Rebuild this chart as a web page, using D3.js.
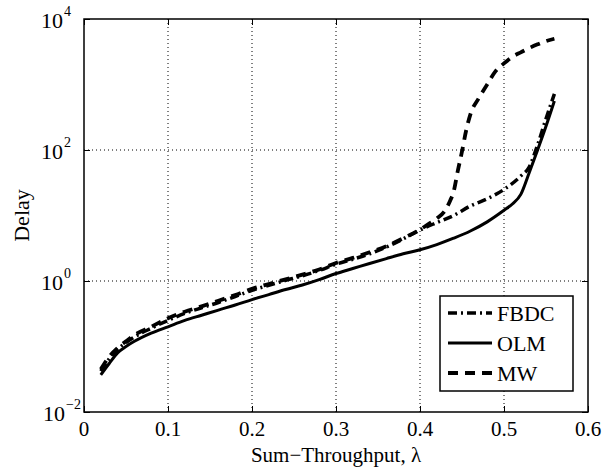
<!DOCTYPE html>
<html>
<head>
<meta charset="utf-8">
<script src="https://cdn.jsdelivr.net/npm/d3@7"></script>
<style>
  html, body { margin: 0; padding: 0; background: #fff; }
  svg { display: block; }
  text { font-family: "Liberation Serif", "Times New Roman", serif; fill: #000; }
</style>
</head>
<body>
<svg id="chart" width="603" height="472"></svg>
<script>
// ---------------- data ----------------
const xTicks = [0, 0.1, 0.2, 0.3, 0.4, 0.5, 0.6];
const xTickLabels = ["0", "0.1", "0.2", "0.3", "0.4", "0.5", "0.6"];
const yTicks = [1e-2, 1e0, 1e2, 1e4];
const yTickExponents = ["\u22122", "0", "2", "4"];
const seriesNames = ["FBDC", "OLM", "MW"];

const olmX = [0.02, 0.03, 0.04, 0.05, 0.06, 0.08, 0.10, 0.12, 0.14, 0.16, 0.18, 0.20, 0.22, 0.24, 0.26, 0.28, 0.30, 0.32, 0.34, 0.36, 0.38, 0.40, 0.42, 0.44, 0.46, 0.48, 0.50, 0.51, 0.52, 0.53, 0.54, 0.55, 0.56];
const olmY = [0.037, 0.055, 0.08, 0.1, 0.12, 0.16, 0.2, 0.25, 0.3, 0.36, 0.43, 0.52, 0.62, 0.74, 0.87, 1.05, 1.3, 1.55, 1.85, 2.2, 2.6, 3.0, 3.6, 4.5, 5.8, 8, 12, 15, 21, 45, 100, 230, 560];

const fbdcX = [0.02, 0.03, 0.04, 0.05, 0.06, 0.08, 0.10, 0.12, 0.14, 0.16, 0.18, 0.20, 0.22, 0.24, 0.26, 0.28, 0.30, 0.32, 0.34, 0.36, 0.38, 0.40, 0.42, 0.44, 0.46, 0.48, 0.50, 0.52, 0.53, 0.54, 0.55, 0.56];
const fbdcY = [0.042, 0.065, 0.09, 0.115, 0.14, 0.19, 0.25, 0.32, 0.39, 0.47, 0.58, 0.72, 0.86, 1.02, 1.2, 1.45, 1.8, 2.15, 2.6, 3.3, 4.4, 6.0, 7.8, 10, 14, 18, 25, 40, 55, 120, 300, 720];

const mwX = [0.02, 0.03, 0.04, 0.05, 0.06, 0.08, 0.10, 0.12, 0.14, 0.16, 0.18, 0.20, 0.22, 0.24, 0.26, 0.28, 0.30, 0.32, 0.34, 0.36, 0.38, 0.40, 0.41, 0.42, 0.43, 0.436, 0.44, 0.445, 0.45, 0.455, 0.46, 0.47, 0.48, 0.49, 0.50, 0.51, 0.52, 0.53, 0.54, 0.55, 0.56];
const mwY = [0.045, 0.07, 0.095, 0.12, 0.15, 0.2, 0.27, 0.34, 0.41, 0.5, 0.61, 0.76, 0.9, 1.06, 1.25, 1.5, 1.88, 2.25, 2.75, 3.4, 4.5, 6.1, 7.4, 9, 12, 17, 23, 48, 95, 200, 350, 620, 1000, 1600, 2100, 2650, 3100, 3600, 4100, 4600, 5000];

// ---------------- layout ----------------
const svg = d3.select("#chart");
const L = 84, R = 588, T = 19, B = 412;

const x = d3.scaleLinear().domain([0, 0.6]).range([L, R]);
const y = d3.scaleLog().domain([1e-2, 1e4]).range([B, T]);

svg.append("rect").attr("width", 603).attr("height", 472).attr("fill", "#fff");

// grid
const gridX = xTicks.slice(1, -1), gridY = yTicks.slice(1, -1);
svg.append("g").selectAll("line").data(gridX).join("line")
  .attr("x1", d => x(d)).attr("x2", d => x(d))
  .attr("y1", T).attr("y2", B)
  .attr("stroke", "#000").attr("stroke-width", 1).attr("stroke-dasharray", "1,3");
svg.append("g").selectAll("line").data(gridY).join("line")
  .attr("y1", d => y(d)).attr("y2", d => y(d))
  .attr("x1", L).attr("x2", R)
  .attr("stroke", "#000").attr("stroke-width", 1).attr("stroke-dasharray", "1,3");

// axes (ticks inward) using d3 axes
const tl = 6;
svg.append("g").attr("transform", `translate(0,${B})`)
  .call(d3.axisBottom(x).tickValues(xTicks).tickSize(-tl).tickFormat(""))
  .call(g => g.select(".domain").remove());
svg.append("g").attr("transform", `translate(0,${T})`)
  .call(d3.axisTop(x).tickValues(xTicks).tickSize(-tl).tickFormat(""))
  .call(g => g.select(".domain").remove());
svg.append("g").attr("transform", `translate(${L},0)`)
  .call(d3.axisLeft(y).tickValues(yTicks).tickSize(-tl).tickFormat(""))
  .call(g => g.select(".domain").remove());
svg.append("g").attr("transform", `translate(${R},0)`)
  .call(d3.axisRight(y).tickValues(yTicks).tickSize(-tl).tickFormat(""))
  .call(g => g.select(".domain").remove());
svg.selectAll(".tick line").attr("stroke", "#000").attr("stroke-width", 1);

// frame
svg.append("rect").attr("x", L).attr("y", T).attr("width", R - L).attr("height", B - T)
  .attr("fill", "none").attr("stroke", "#000").attr("stroke-width", 1.5);

// x tick labels
svg.append("g").selectAll("text").data(xTicks).join("text")
  .attr("x", d => x(d)).attr("y", B + 24)
  .attr("text-anchor", "middle").attr("font-size", 21)
  .text((d, i) => xTickLabels[i]);

// y tick labels 10^k
const yl = svg.append("g").selectAll("g").data(yTicks).join("g")
  .attr("transform", d => `translate(0,${y(d)})`);
yl.append("text").attr("x", d => d < 1 ? 65 : 63).attr("y", 9)
  .attr("text-anchor", "end").attr("font-size", 22).text("10");
yl.append("text").attr("x", d => d < 1 ? 66 : 64).attr("y", -3)
  .attr("text-anchor", "start").attr("font-size", 14)
  .text((d, i) => yTickExponents[i]);

// axis labels
svg.append("text").attr("x", (L + R) / 2).attr("y", 462)
  .attr("text-anchor", "middle").attr("font-size", 21)
  .text("Sum\u2212Throughput, \u03bb");
svg.append("text").attr("transform", `translate(29,${(T + B) / 2}) rotate(-90)`)
  .attr("text-anchor", "middle").attr("font-size", 22).text("Delay");

// lines
const styles = {
  FBDC: { dash: "9,4,2,4", width: 3.5 },
  OLM: { dash: null, width: 3 },
  MW: { dash: "10,7", width: 3.8 }
};
const seriesData = {
  FBDC: fbdcX.map((v, i) => [v, fbdcY[i]]),
  OLM: olmX.map((v, i) => [v, olmY[i]]),
  MW: mwX.map((v, i) => [v, mwY[i]])
};
const line = d3.line().x(d => x(d[0])).y(d => y(d[1])).curve(d3.curveMonotoneX);
svg.append("clipPath").attr("id", "clip").append("rect")
  .attr("x", L).attr("y", T).attr("width", R - L).attr("height", B - T);
["OLM", "FBDC", "MW"].forEach(name => {
  svg.append("path").datum(seriesData[name])
    .attr("clip-path", "url(#clip)")
    .attr("d", line).attr("fill", "none").attr("stroke", "#000")
    .attr("stroke-width", styles[name].width)
    .attr("stroke-dasharray", styles[name].dash);
});

// legend
const lg = svg.append("g");
lg.append("rect").attr("x", 440).attr("y", 296).attr("width", 133).attr("height", 95)
  .attr("fill", "#fff").attr("stroke", "#000").attr("stroke-width", 1.5);
const rowY = [313, 343, 373];
seriesNames.forEach((name, i) => {
  lg.append("line").attr("x1", 448).attr("x2", 492).attr("y1", rowY[i]).attr("y2", rowY[i])
    .attr("stroke", "#000").attr("stroke-width", styles[name].width)
    .attr("stroke-dasharray", styles[name].dash);
  lg.append("text").attr("x", 497).attr("y", rowY[i] + 8)
    .attr("font-size", 22).text(name);
});
</script>
</body>
</html>
